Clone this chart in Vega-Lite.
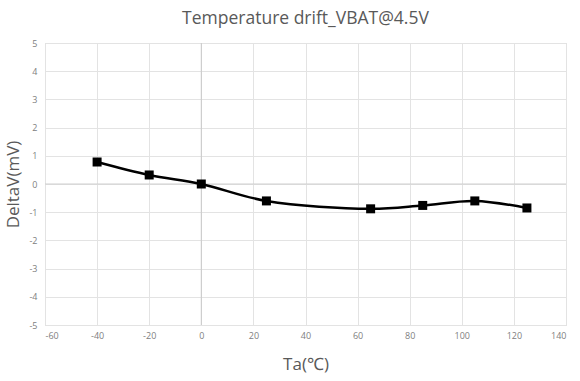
{
  "$schema": "https://vega.github.io/schema/vega-lite/v6.json",
  "autosize": {"type": "none"},
  "padding": {"left": 45, "top": 43, "right": 14, "bottom": 56},
  "width": 521,
  "height": 282,
  "background": "white",
  "title": {"text": "Temperature drift_VBAT@4.5V", "font": "Open Sans", "fontSize": 17.5, "fontWeight": "normal", "color": "#595959", "offset": 12, "anchor": "middle"},
  "config": {"view": {"stroke": "#d9d9d9"}, "font": "Open Sans"},
  "data": {"values": [
    {"t": -40, "v": 0.78},
    {"t": -20, "v": 0.32},
    {"t": 0, "v": 0.0},
    {"t": 25, "v": -0.6},
    {"t": 65, "v": -0.88},
    {"t": 85, "v": -0.76},
    {"t": 105, "v": -0.6},
    {"t": 125, "v": -0.85}
  ]},
  "encoding": {
    "x": {"field": "t", "type": "quantitative", "scale": {"domain": [-60, 140], "nice": false}, "axis": {"values": [-60,-40,-20,0,20,40,60,80,100,120,140], "labelExpr": "'' + datum.value", "title": "Ta(℃)", "titleFont": "Open Sans", "titleFontSize": 17, "titleFontWeight": "normal", "titleColor": "#595959", "titlePadding": 16, "labelFontSize": 9, "labelColor": "#808080", "labelPadding": 6, "domain": false, "ticks": false, "gridColor": "#e3e3e3"}},
    "y": {"field": "v", "type": "quantitative", "scale": {"domain": [-5, 5], "nice": false}, "axis": {"values": [-5,-4,-3,-2,-1,0,1,2,3,4,5], "labelExpr": "'' + datum.value", "title": "DeltaV(mV)", "titleFont": "Open Sans", "titleFontSize": 17, "titleFontWeight": "normal", "titleColor": "#595959", "titlePadding": 6, "labelFontSize": 9, "labelColor": "#808080", "labelPadding": 8, "domain": false, "ticks": false, "gridColor": "#e3e3e3"}}
  },
  "layer": [
    {"data": {"values": [{"z": 0}]}, "mark": {"type": "rule", "color": "#c8c8c8", "strokeWidth": 1}, "encoding": {"x": {"field": "z", "type": "quantitative"}, "y": null}},
    {"data": {"values": [{"z": 0}]}, "mark": {"type": "rule", "color": "#cfcfcf", "strokeWidth": 1}, "encoding": {"y": {"field": "z", "type": "quantitative"}, "x": null}},
    {"mark": {"type": "line", "color": "black", "strokeWidth": 2.5, "interpolate": "catmull-rom"}},
    {"mark": {"type": "point", "shape": "square", "filled": true, "color": "black", "size": 81, "opacity": 1}}
  ]
}
